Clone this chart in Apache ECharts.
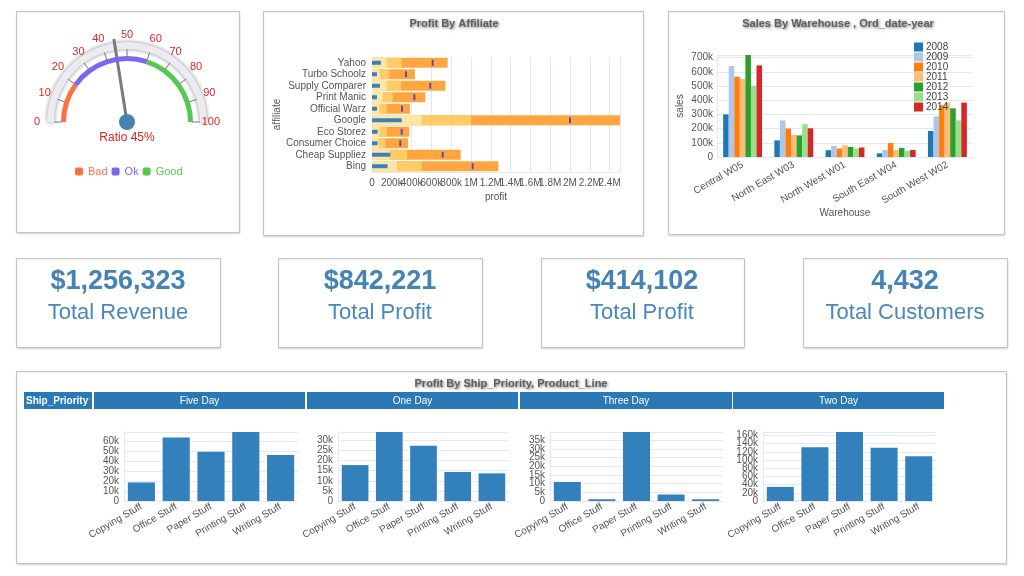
<!DOCTYPE html>
<html><head><meta charset="utf-8">
<script src="https://cdn.jsdelivr.net/npm/echarts@6/dist/echarts.min.js"></script>
<style>html,body{margin:0;padding:0;background:#fff}#c{width:1024px;height:576px}</style>
</head><body><div id="c"></div>
<script>
// ---------- DATA ----------
const gaugeValue = 45;
const gaugeBands = ['Bad', 'Ok', 'Good'];
const gaugeBandLimits = [0, 20, 60, 100];

const affiliates = ['Bing','Cheap Suppliez','Consumer Choice','Eco Storez','Google','Official Warz','Print Manic','Supply Comparer','Turbo Schoolz','Yahoo'];
const affMeasure   = [158000, 185000, 57000, 57000, 300000, 50000, 50000, 80000, 50000, 90000];
const affRangeLow  = [253000, 180000, 67000, 74000, 500000, 74000, 108000, 148000, 80000, 148000];
const affRangeMid  = [505000, 354000, 135000, 148000, 1000000, 148000, 209000, 293000, 175000, 300000];
const affRangeHigh = [1276000, 896000, 364000, 377000, 2505000, 384000, 539000, 741000, 434000, 764000];
const affTarget    = [1017000, 714000, 286000, 300000, 2000000, 303000, 428000, 589000, 343000, 613000];

const warehouses = ['Central W05','North East W03','North West W01','South East W04','South West W02'];
const years = ['2008','2009','2010','2011','2012','2013','2014'];
const sales2008 = [300000, 117000, 48000, 26000, 183000];
const sales2009 = [640000, 257000, 79000, 50000, 286000];
const sales2010 = [565000, 200000, 60000, 98000, 364000];
const sales2011 = [550000, 155000, 83000, 50000, 383000];
const sales2012 = [718000, 152000, 71000, 64000, 343000];
const sales2013 = [502000, 231000, 60000, 43000, 257000];
const sales2014 = [645000, 202000, 67000, 50000, 383000];

const kpiValues = ['$1,256,323', '$842,221', '$414,102', '4,432'];
const kpiLabels = ['Total Revenue', 'Total Profit', 'Total Profit', 'Total Customers'];

const products = ['Copying Stuff','Office Stuff','Paper Stuff','Printing Stuff','Writing Stuff'];
const shipPriorities = ['Five Day','One Day','Three Day','Two Day'];
const profitFiveDay  = [18700, 64100, 49800, 69600, 46500];
const profitOneDay   = [17800, 34200, 27400, 14400, 13700];
const profitThreeDay = [11000, 1000, 39800, 3750, 1000];
const profitTwoDay   = [34500, 131400, 168400, 129700, 109300];

// ---------- LAYOUT / STYLE ----------
const FONT = '"Liberation Sans", Arial, Helvetica, sans-serif';
const LAV = '#e6e6fa';
const TXT = '#555';
const bandColors = ['#ff7043', '#7b68ee', '#55c855'];
const yearColors = ['#1f77b4','#aec7e8','#ff7f0e','#ffbb78','#2ca02c','#98df8a','#d62728'];
const gc = [127, 122];

function fmtK(v) {
  if (v === 0) return '0';
  if (Math.abs(v) >= 1e6) return +(v / 1e6).toFixed(1) + 'M';
  return +(v / 1e3).toFixed(1) + 'k';
}

const panels = [[16,11,223,221],[263,11,380,224],[668,11,336,223],[16,258,204,89],[278,258,204,89],[541,258,203,89],[803,258,204,89],[16,371,990,192]];
const kpiCenters = [118, 380, 642, 905];
const headerCells = [[24,68],[94,211],[307,211],[520,212],[733,211]];
const miniGrids = [[124,298],[338,509],[550,723],[763,936]];
const miniIntervals = [10000, 5000, 5000, 20000];
const profitByPriority = [profitFiveDay, profitOneDay, profitThreeDay, profitTwoDay];

const graphic = [];
panels.forEach(p => graphic.push({type:'rect', z:-10, shape:{x:p[0]+0.5, y:p[1]+0.5, width:p[2], height:p[3]},
  style:{fill:'#fff', stroke:'#c4c4c4', lineWidth:1, shadowBlur:2, shadowColor:'rgba(0,0,0,0.12)', shadowOffsetY:1}}));
kpiValues.forEach((v, i) => {
  graphic.push({type:'text', x:kpiCenters[i], y:282, style:{text:v, fill:'#4682b4', font:'bold 27px ' + FONT, align:'center', verticalAlign:'middle'}});
  graphic.push({type:'text', x:kpiCenters[i], y:313, style:{text:kpiLabels[i], fill:'#4a87bd', font:'22px ' + FONT, align:'center', verticalAlign:'middle'}});
});
function shadowTitle(text, x, y) {
  return {type:'text', x:x, y:y, style:{text:text, fill:'#606060', font:'bold 11px ' + FONT, align:'center', verticalAlign:'middle',
    textShadowColor:'rgba(0,0,0,0.55)', textShadowBlur:3, textShadowOffsetX:1, textShadowOffsetY:1}};
}
graphic.push(shadowTitle('Profit By Affiliate', 454, 24));
graphic.push(shadowTitle('Sales By Warehouse , Ord_date-year', 838, 24));
graphic.push(shadowTitle('Profit By Ship_Priority, Product_Line', 511, 384));
headerCells.forEach((c, i) => {
  graphic.push({type:'rect', shape:{x:c[0], y:392, width:c[1], height:17}, style:{fill:'#2a78b6'}});
  if (i === 0) {
    graphic.push({type:'text', x:c[0] + 2, y:401, style:{text:'Ship_Priority', fill:'#fff', font:'bold 10px ' + FONT, align:'left', verticalAlign:'middle'}});
    graphic.push({type:'text', x:c[0] + 64, y:398, style:{text:'\u2192', fill:'#8fb8dc', font:'7px ' + FONT, align:'center', verticalAlign:'middle'}});
  } else {
    graphic.push({type:'text', x:c[0] + c[1] / 2, y:401, style:{text:shipPriorities[i - 1], fill:'#fff', font:'10px ' + FONT, align:'center', verticalAlign:'middle'}});
  }
});

// ---------- AXES / GRIDS ----------
const grid = [
  {left:372, right:1024 - 620, top:57, bottom:576 - 172},
  {left:717, right:1024 - 973, top:55, bottom:576 - 157}
];
const xAxis = [
  {gridIndex:0, type:'value', min:0, max:2505000, interval:200000,
   axisLabel:{formatter:fmtK, color:TXT, fontSize:10, fontFamily:FONT, showMaxLabel:false, showMinLabel:true, hideOverlap:false, margin:6},
   axisLine:{show:true, lineStyle:{color:LAV}}, axisTick:{show:false}, splitLine:{lineStyle:{color:LAV}},
   name:'profit', nameLocation:'middle', nameGap:20, nameTextStyle:{color:TXT, fontSize:10, fontFamily:FONT}},
  {gridIndex:1, type:'category', data:warehouses,
   axisLabel:{interval:0, rotate:30, color:TXT, fontSize:10, fontFamily:FONT, margin:7},
   axisLine:{lineStyle:{color:LAV}}, axisTick:{show:false},
   name:'Warehouse', nameLocation:'middle', nameGap:48, nameTextStyle:{color:TXT, fontSize:10, fontFamily:FONT}}
];
const yAxis = [
  {gridIndex:0, type:'category', data:affiliates,
   axisLabel:{interval:0, color:TXT, fontSize:10, fontFamily:FONT, margin:6}, axisLine:{lineStyle:{color:LAV}}, axisTick:{show:false},
   name:'affiliate', nameLocation:'middle', nameGap:86, nameTextStyle:{color:TXT, fontSize:10, fontFamily:FONT}},
  {gridIndex:0, type:'category', data:affiliates, show:false},
  {gridIndex:1, type:'value', min:0, max:'dataMax', interval:100000,
   axisLabel:{formatter:fmtK, color:TXT, fontSize:10, fontFamily:FONT, showMaxLabel:false, showMinLabel:true, margin:4},
   axisLine:{show:true, lineStyle:{color:LAV}}, axisTick:{show:false}, splitLine:{lineStyle:{color:LAV}},
   name:'sales', nameLocation:'middle', nameGap:32, nameTextStyle:{color:TXT, fontSize:10, fontFamily:FONT}}
];

const series = [];

// Gauge
series.push({
  type:'gauge', name:'Ratio', center:gc, radius:80, startAngle:180, endAngle:0, min:0, max:100, splitNumber:10,
  axisLine:{lineStyle:{width:7, color:[[1, '#ebebf1']], shadowColor:'rgba(0,0,0,0.45)', shadowBlur:4}},
  axisTick:{show:false},
  splitLine:{length:8, distance:0, lineStyle:{color:'#777', width:1}},
  axisLabel:{distance:-21, color:'#e02424', fontSize:11, fontFamily:FONT},
  pointer:{show:true, icon:'rect', length:84, width:3, itemStyle:{color:'#7a7a7a'}},
  anchor:{show:true, size:16, showAbove:true, itemStyle:{color:'#4682b4'}},
  title:{show:false},
  detail:{show:true, offsetCenter:[0, 16], formatter:'Ratio {value}%', color:'#e02424', fontSize:12, fontWeight:'normal', fontFamily:FONT},
  data:[{value:gaugeValue}]
});
gaugeBands.forEach((b, i) => {
  const a0 = 180 - gaugeBandLimits[i] * 1.8, a1 = 180 - gaugeBandLimits[i + 1] * 1.8;
  series.push({
    type:'gauge', name:b, center:gc, radius:66, startAngle:a0, endAngle:a1, min:0, max:100,
    itemStyle:{color:bandColors[i]},
    axisLine:{lineStyle:{width:5, color:[[1, bandColors[i]]]}},
    axisTick:{show:false}, splitLine:{show:false}, axisLabel:{show:false},
    pointer:{show:false}, anchor:{show:false}, title:{show:false}, detail:{show:false},
    data:[{value:0}]
  });
});

// Bullet chart
series.push({type:'bar', xAxisIndex:0, yAxisIndex:0, data:affRangeHigh, barWidth:10, barGap:'-100%', itemStyle:{color:'#ffa640'}, silent:true});
series.push({type:'bar', xAxisIndex:0, yAxisIndex:0, data:affRangeMid, barWidth:10, barGap:'-100%', itemStyle:{color:'#ffcc66'}, silent:true});
series.push({type:'bar', xAxisIndex:0, yAxisIndex:0, data:affRangeLow, barWidth:10, barGap:'-100%', itemStyle:{color:'#ffe6a6'}, silent:true});
series.push({type:'bar', xAxisIndex:0, yAxisIndex:1, data:affMeasure, barWidth:4, itemStyle:{color:'#3a80ba'}});
series.push({type:'scatter', xAxisIndex:0, yAxisIndex:0, symbol:'rect', symbolSize:[2, 6], itemStyle:{color:'#3434d0'},
  data:affTarget.map((v, i) => [v, affiliates[i]]), z:5});

// Warehouse grouped bars
[sales2008, sales2009, sales2010, sales2011, sales2012, sales2013, sales2014].forEach((d, i) => {
  series.push({type:'bar', name:years[i], xAxisIndex:1, yAxisIndex:2, data:d, barGap:'0%', barCategoryGap:'24%', itemStyle:{color:yearColors[i]}});
});

// Mini bar charts
profitByPriority.forEach((d, i) => {
  const g = miniGrids[i];
  grid.push({left:g[0], right:1024 - g[1], top:432, bottom:576 - 501});
  const gi = grid.length - 1;
  const dMax = Math.max.apply(null, d);
  xAxis.push({gridIndex:gi, type:'category', data:products,
    axisLabel:{interval:0, rotate:30, color:TXT, fontSize:10, fontFamily:FONT, margin:5},
    axisLine:{lineStyle:{color:LAV}}, axisTick:{show:false}});
  // main value axis (all labels except the zero)
  yAxis.push({gridIndex:gi, type:'value', min:0, max:dMax, interval:miniIntervals[i],
    axisLabel:{formatter:fmtK, color:TXT, fontSize:10, fontFamily:FONT, showMaxLabel:false, showMinLabel:false, hideOverlap:false, margin:5},
    axisLine:{show:true, lineStyle:{color:LAV}}, axisTick:{show:false}, splitLine:{lineStyle:{color:LAV}}});
  const mainY = yAxis.length - 1;
  // companion axis carrying only the zero label
  yAxis.push({gridIndex:gi, type:'value', position:'left', offset:0, min:0, max:dMax, interval:miniIntervals[i],
    axisLabel:{formatter:v => (v === 0 ? '0' : ''), color:TXT, fontSize:10, fontFamily:FONT, showMaxLabel:false, showMinLabel:true, hideOverlap:false, margin:5},
    axisLine:{show:false}, axisTick:{show:false}, splitLine:{show:false}});
  series.push({type:'bar', name:shipPriorities[i], xAxisIndex:xAxis.length - 1, yAxisIndex:mainY, data:d,
    barCategoryGap:'22%', itemStyle:{color:'#3280bc'}});
});

const option = {
  animation:false,
  textStyle:{fontFamily:FONT},
  graphic:graphic,
  legend:[
    {data:gaugeBands.map((b, i) => ({name:b, textStyle:{color:bandColors[i]}})), left:75, top:166, itemWidth:8, itemHeight:8, itemGap:4,
     icon:'roundRect', textStyle:{fontSize:11, fontFamily:FONT}, padding:0, selectedMode:false},
    {data:years, orient:'vertical', left:914, top:42, itemWidth:9, itemHeight:9, itemGap:0, icon:'rect', padding:0,
     textStyle:{fontSize:10, color:'#444', fontFamily:FONT, lineHeight:9, padding:[0,0,0,-2]}, selectedMode:false}
  ],
  grid:grid, xAxis:xAxis, yAxis:yAxis, series:series
};
const chart = echarts.init(document.getElementById('c'));
chart.setOption(option);
</script>
</body></html>
